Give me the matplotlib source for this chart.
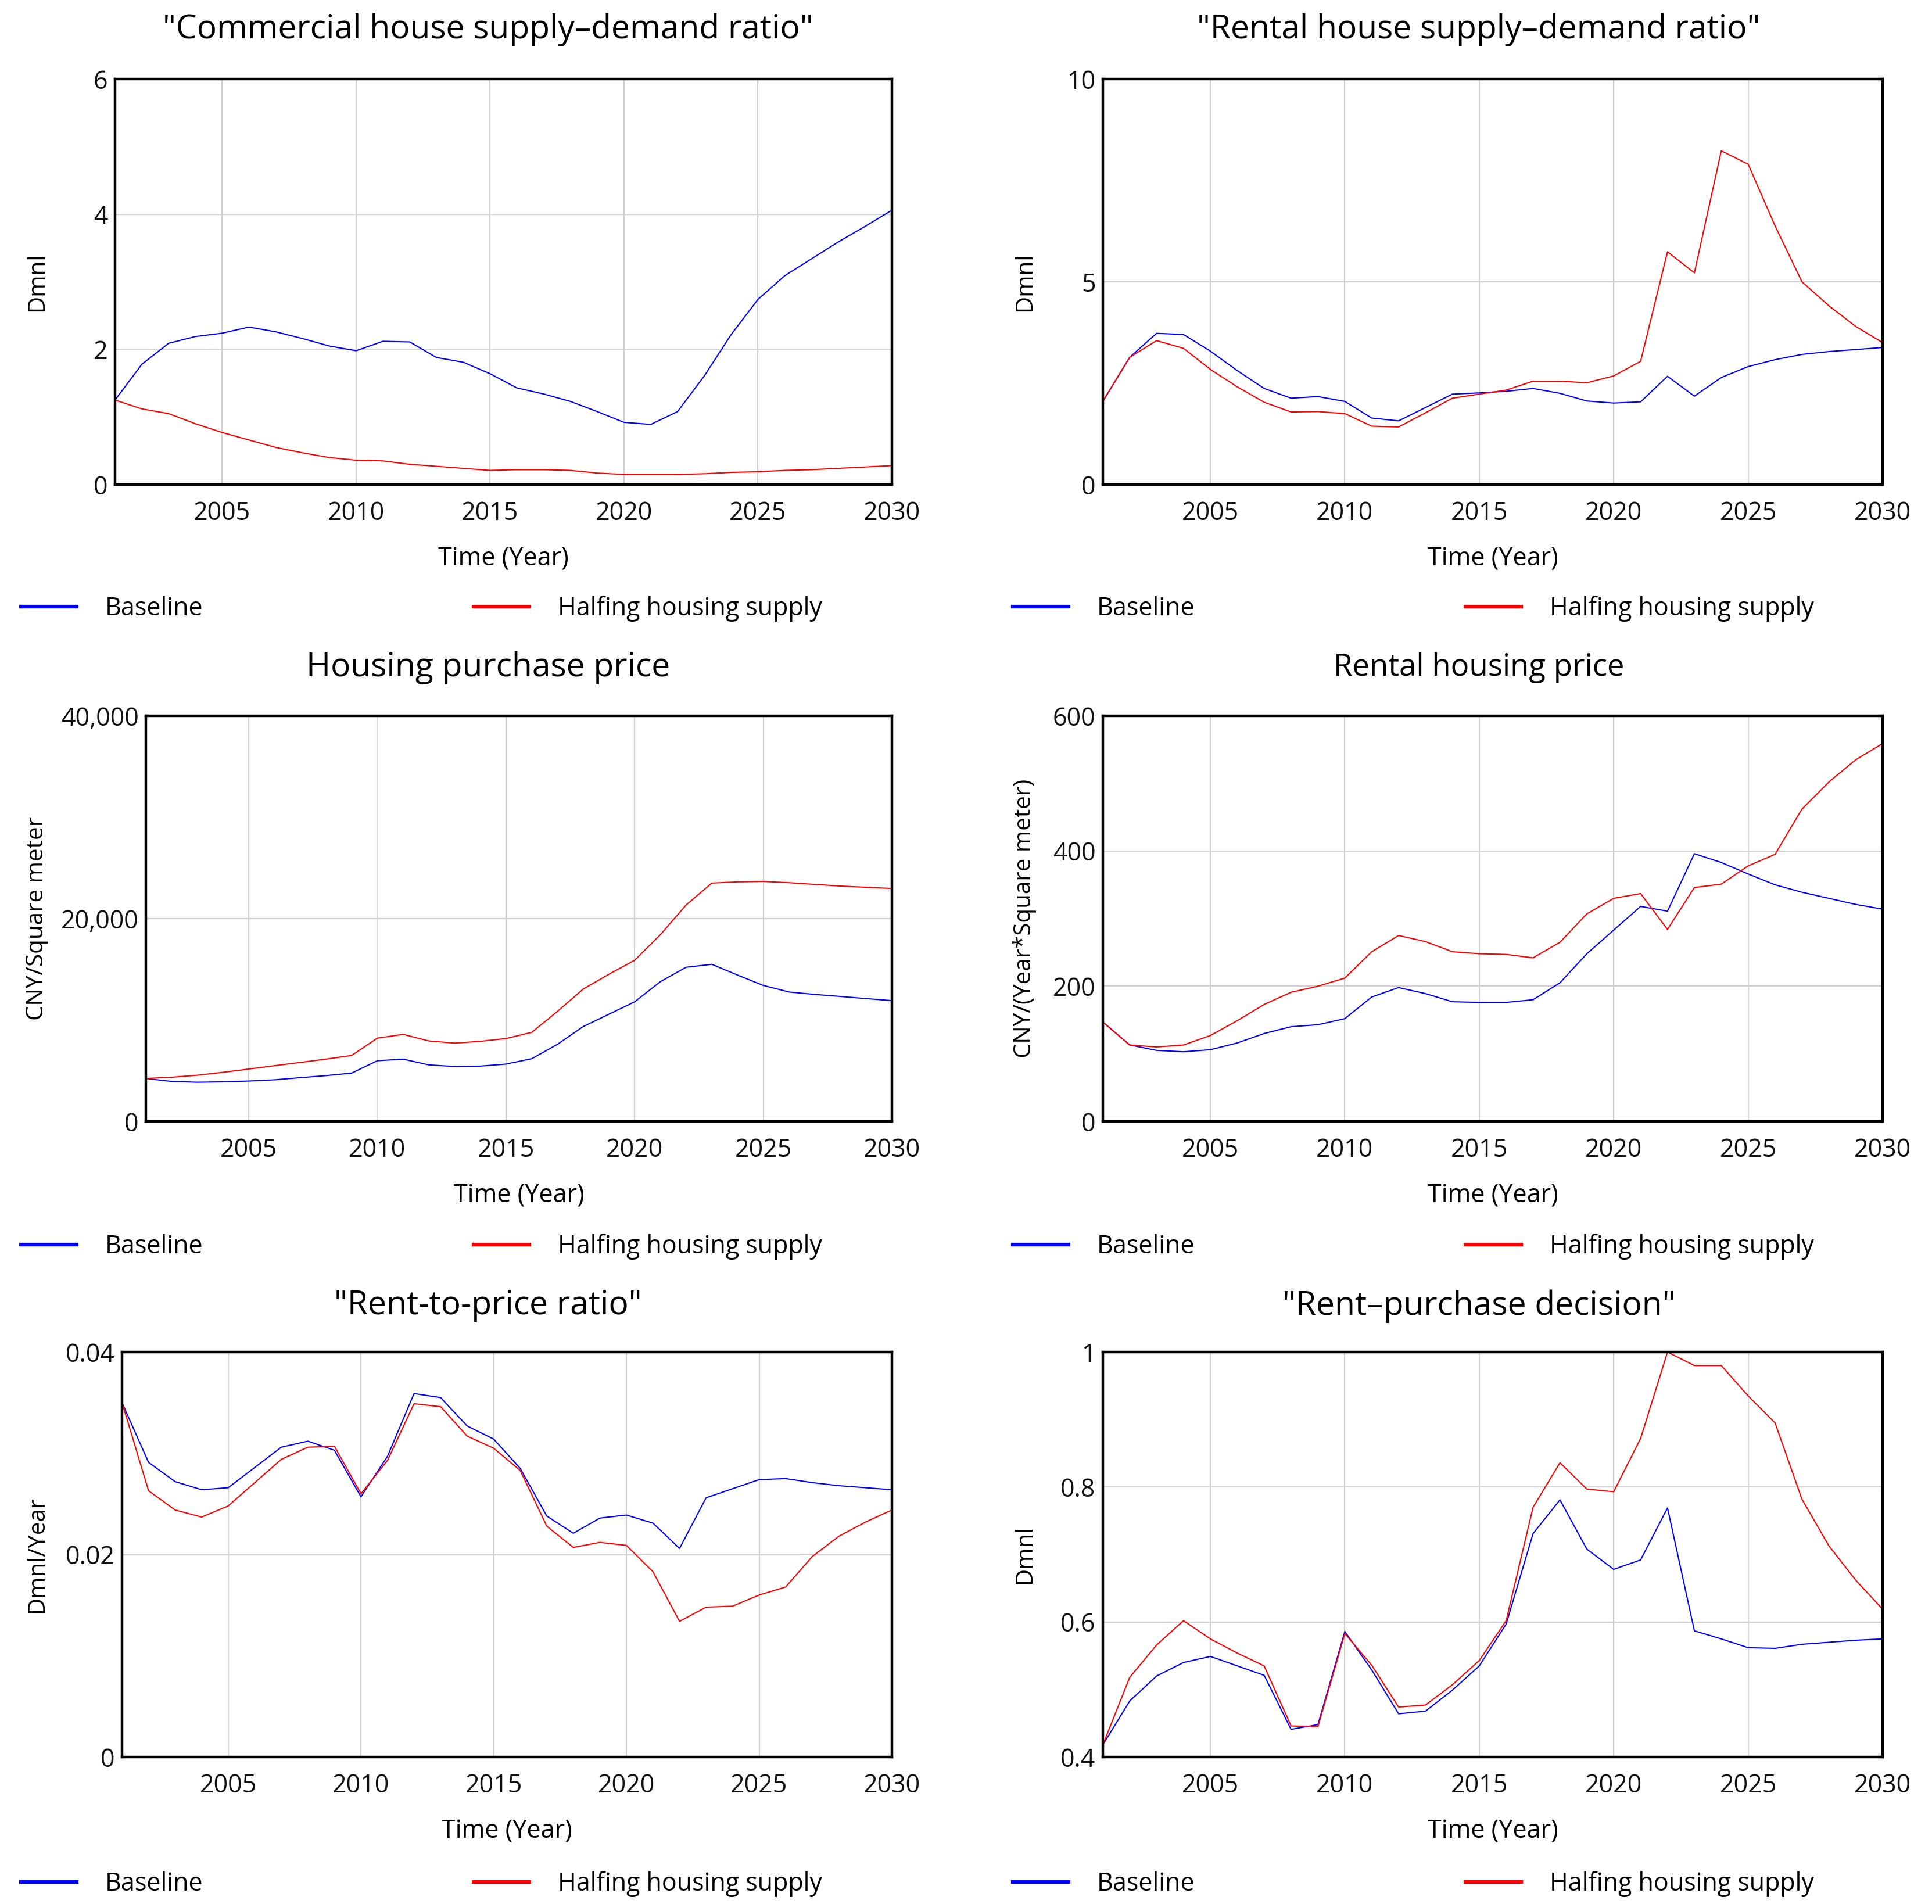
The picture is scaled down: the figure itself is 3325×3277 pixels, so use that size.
import matplotlib
matplotlib.use("Agg")
from matplotlib import pyplot as plt
from matplotlib.lines import Line2D

plt.rcParams['font.family'] = ['Open Sans', 'DejaVu Sans']

years = list(range(2001, 2031))

comm_base = [1.25, 1.78, 2.09, 2.19, 2.24, 2.33, 2.26, 2.16, 2.05, 1.98, 2.12, 2.11, 1.88, 1.81, 1.64,
             1.43, 1.34, 1.23, 1.08, 0.92, 0.89, 1.08, 1.61, 2.22, 2.74, 3.09, 3.34, 3.59, 3.82, 4.06]
comm_half = [1.25, 1.12, 1.05, 0.90, 0.77, 0.66, 0.55, 0.47, 0.40, 0.36, 0.35, 0.30, 0.27, 0.24, 0.21,
             0.22, 0.22, 0.21, 0.17, 0.15, 0.15, 0.15, 0.16, 0.18, 0.19, 0.21, 0.22, 0.24, 0.26, 0.28]

rent_sd_base = [2.05, 3.14, 3.73, 3.70, 3.29, 2.81, 2.37, 2.13, 2.17, 2.05, 1.64, 1.57, 1.90, 2.23, 2.26,
                2.30, 2.37, 2.25, 2.06, 2.01, 2.04, 2.67, 2.18, 2.64, 2.91, 3.08, 3.21, 3.28, 3.33, 3.38]
rent_sd_half = [2.05, 3.14, 3.55, 3.36, 2.84, 2.41, 2.03, 1.79, 1.80, 1.75, 1.44, 1.42, 1.77, 2.13, 2.23,
                2.33, 2.55, 2.55, 2.51, 2.68, 3.04, 5.74, 5.22, 8.23, 7.90, 6.38, 5.00, 4.41, 3.90, 3.50]

price_base = [4230, 3940, 3860, 3900, 3980, 4100, 4310, 4510, 4760, 5980, 6140, 5570, 5410, 5450, 5650,
              6180, 7600, 9350, 10570, 11790, 13780, 15200, 15490, 14430, 13410, 12760, 12520, 12320,
              12110, 11910]
price_half = [4230, 4350, 4550, 4840, 5160, 5490, 5810, 6140, 6500, 8210, 8580, 7930, 7720, 7890, 8170,
              8780, 10850, 13050, 14510, 15890, 18410, 21340, 23500, 23620, 23660, 23540, 23370, 23210,
              23090, 22970]

rent_base = [147, 113, 105, 103, 106, 116, 130, 140, 143, 152, 184, 198, 189, 177, 176,
             176, 180, 205, 248, 283, 318, 311, 396, 383, 366, 350, 339, 330, 321, 314]
rent_half = [147, 113, 110, 113, 127, 149, 173, 191, 200, 212, 251, 275, 266, 251, 248,
             247, 242, 265, 307, 330, 337, 284, 346, 351, 378, 395, 462, 502, 535, 559]

ratio_base = [0.0350, 0.0291, 0.0272, 0.0264, 0.0266, 0.0286, 0.0306, 0.0312, 0.0303, 0.0257,
              0.0297, 0.0359, 0.0355, 0.0327, 0.0314, 0.0285, 0.0238, 0.0221, 0.0236, 0.0239,
              0.0231, 0.0206, 0.0256, 0.0265, 0.0274, 0.0275, 0.0271, 0.0268, 0.0266, 0.0264]
ratio_half = [0.0350, 0.0263, 0.0244, 0.0237, 0.0248, 0.0271, 0.0294, 0.0306, 0.0307, 0.0260,
              0.0293, 0.0349, 0.0346, 0.0317, 0.0305, 0.0283, 0.0228, 0.0207, 0.0212, 0.0209,
              0.0183, 0.0134, 0.0148, 0.0149, 0.0160, 0.0168, 0.0198, 0.0218, 0.0232, 0.0244]

decision_base = [0.418, 0.483, 0.520, 0.540, 0.549, 0.535, 0.521, 0.441, 0.448, 0.586, 0.529, 0.464,
                 0.468, 0.499, 0.535, 0.597, 0.731, 0.781, 0.708, 0.678, 0.692, 0.769, 0.587, 0.575,
                 0.562, 0.561, 0.567, 0.570, 0.573, 0.575]
decision_half = [0.418, 0.518, 0.566, 0.602, 0.575, 0.554, 0.535, 0.446, 0.445, 0.583, 0.536, 0.474,
                 0.477, 0.507, 0.543, 0.602, 0.770, 0.836, 0.797, 0.793, 0.872, 1.000, 0.980, 0.980,
                 0.935, 0.895, 0.782, 0.713, 0.662, 0.619]

x_ticks = [2005, 2010, 2015, 2020, 2025, 2030]
series_names = ["Baseline", "Halfing housing supply"]

W, H = 3325, 3277

# (title, ylabel, base, half, yticks, ytick labels, title size)
panels = [
    ('"Commercial house supply–demand ratio"', "Dmnl", comm_base, comm_half,
     [0, 2, 4, 6], ["0", "2", "4", "6"], 41),
    ('"Rental house supply–demand ratio"', "Dmnl", rent_sd_base, rent_sd_half,
     [0, 5, 10], ["0", "5", "10"], 41),
    ("Housing purchase price", "CNY/Square meter", price_base, price_half,
     [0, 20000, 40000], ["0", "20,000", "40,000"], 41),
    ("Rental housing price", "CNY/(Year*Square meter)", rent_base, rent_half,
     [0, 200, 400, 600], ["0", "200", "400", "600"], 38),
    ('"Rent-to-price ratio"', "Dmnl/Year", ratio_base, ratio_half,
     [0, 0.02, 0.04], ["0", "0.02", "0.04"], 41),
    ('"Rent–purchase decision"', "Dmnl", decision_base, decision_half,
     [0.4, 0.6, 0.8, 1.0], ["0.4", "0.6", "0.8", "1"], 41),
]

# axes boxes in pixels: left, top, right, bottom
boxes = [
    (198, 136, 1535, 834), (1898, 136, 3240, 834),
    (251, 1232, 1535, 1930), (1898, 1232, 3240, 1930),
    (210, 2327, 1535, 3024), (1898, 2327, 3240, 3024),
]
title_x = [840, 2545]
title_y = [51, 1149, 2248]
ylabel_x = [64, 1764]
legend_x = [36, 1743]
legend_y = [1048, 2146, 3243]


def draw_panel(fig, i):
    title, ylab, base, half, yt, ytl, tsize = panels[i]
    l, t, r, b = boxes[i]
    ax = fig.add_axes([l / W, 1 - b / H, (r - l) / W, (b - t) / H])
    ax.plot(years, base, color="#0000ff", lw=1.5, label=series_names[0])
    ax.plot(years, half, color="#ff0000", lw=1.5, label=series_names[1])
    ax.set_xlim(2001, 2030)
    ax.set_ylim(yt[0], yt[-1])
    ax.set_xticks(x_ticks)
    ax.set_yticks(yt)
    ax.set_yticklabels(ytl)
    ax.tick_params(length=0, labelsize=31, colors="#111111")
    ax.tick_params(axis="x", pad=20)
    ax.tick_params(axis="y", pad=9)
    ax.grid(True, color="#d0d0d0", lw=1.6)
    for s in ax.spines.values():
        s.set_linewidth(3.2)
        s.set_color("black")
    ax.set_xlabel("Time (Year)", fontsize=31, labelpad=24)
    ax.set_ylabel(ylab, fontsize=29, va="center")
    ax.yaxis.set_label_coords((ylabel_x[i % 2] - l) / (r - l), 0.5)

    fig.text(title_x[i % 2] / W, 1 - title_y[i // 2] / H, title, fontsize=tsize,
             ha="center", va="center")

    handles = [Line2D([], [], color="#0000ff", lw=4.5), Line2D([], [], color="#ff0000", lw=4.5)]
    fig.legend(handles, series_names, loc="center left", ncol=2, frameon=False, fontsize=31,
               bbox_to_anchor=(legend_x[i % 2] / W, 1 - legend_y[i // 2] / H),
               borderpad=0, borderaxespad=0, handlelength=2.23, handletextpad=1.14,
               columnspacing=10.8)


fig = plt.figure(figsize=(W / 100, H / 100), dpi=100)
for k in range(len(panels)):
    draw_panel(fig, k)
fig.savefig("out.png", dpi=100)
